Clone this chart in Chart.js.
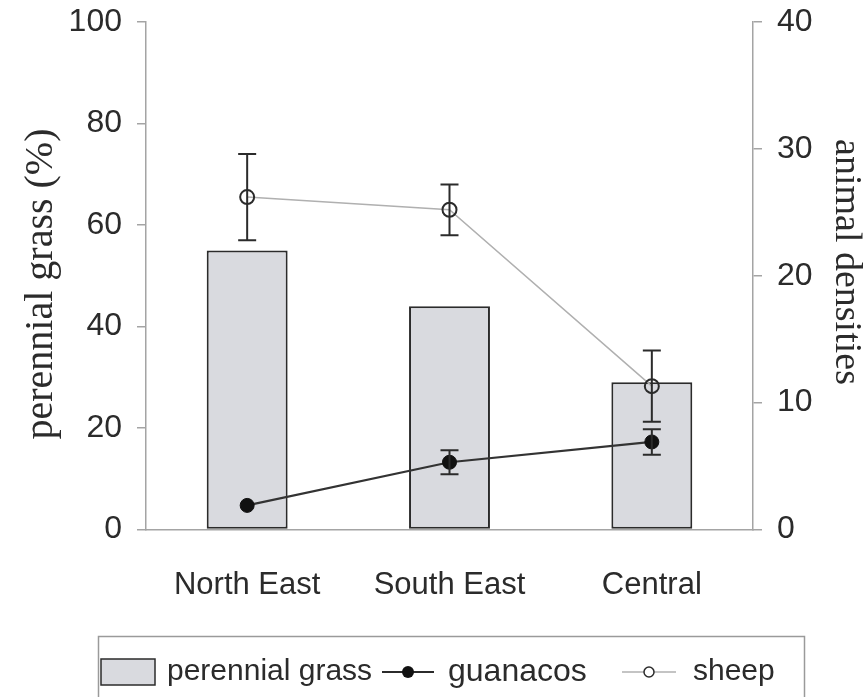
<!DOCTYPE html>
<html>
<head>
<meta charset="utf-8">
<title>Perennial grass cover and animal densities by region</title>
<script src="https://cdn.jsdelivr.net/npm/chart.js@4.4.1/dist/chart.umd.min.js"></script>
<style>
  html, body { margin: 0; padding: 0; background: #ffffff; }
  #wrap { width: 865px; height: 697px; position: relative; }
</style>
</head>
<body>
<div id="wrap"><canvas id="chart" width="865" height="697"></canvas></div>
<script>
// Regions surveyed
const regions = ['North East', 'South East', 'Central'];

// Perennial grass cover (%) per region — left axis
const perennialGrass = [55, 44, 29];

// Animal densities per region — right axis
const guanacos = [1.9, 5.3, 6.9];
const guanacosErr = [0, 0.95, 1.0];
const sheep = [26.2, 25.2, 11.3];
const sheepErr = [3.4, 2.0, 2.8];

// Axis ticks
const grassTicks = [0, 20, 40, 60, 80, 100];
const densityTicks = [0, 10, 20, 30, 40];

const INK = '#2b2b2b';
const AXIS = '#a4a4a4';
const BAR_FILL = '#d9dadf';
const SANS = '"Liberation Sans", Arial, sans-serif';
const SERIF = '"Liberation Serif", "Times New Roman", serif';

// Vertical error bars with caps, drawn on the density axis
const errorBars = {
  id: 'errorBars',
  afterDatasetsDraw(chart) {
    const ctx = chart.ctx;
    const yScale = chart.scales.y1;
    const sets = [
      { index: 1, values: guanacos, errs: guanacosErr },
      { index: 2, values: sheep, errs: sheepErr }
    ];
    ctx.save();
    ctx.strokeStyle = INK;
    ctx.lineWidth = 2;
    sets.forEach(s => {
      const meta = chart.getDatasetMeta(s.index);
      meta.data.forEach((pt, i) => {
        const e = s.errs[i];
        if (!e) return;
        const x = pt.x;
        const yTop = yScale.getPixelForValue(s.values[i] + e);
        const yBot = yScale.getPixelForValue(s.values[i] - e);
        ctx.beginPath();
        ctx.moveTo(x, yTop); ctx.lineTo(x, yBot);
        ctx.moveTo(x - 9, yTop); ctx.lineTo(x + 9, yTop);
        ctx.moveTo(x - 9, yBot); ctx.lineTo(x + 9, yBot);
        ctx.stroke();
      });
    });
    ctx.restore();
  }
};

// Rotated axis titles and the boxed legend below the plot
const decorations = {
  id: 'decorations',
  afterDraw(chart) {
    const ctx = chart.ctx;
    ctx.save();
    ctx.fillStyle = INK;
    ctx.textAlign = 'center';
    ctx.textBaseline = 'middle';

    ctx.save();
    ctx.font = '40px ' + SERIF;
    ctx.translate(41, 284);
    ctx.rotate(-Math.PI / 2);
    ctx.fillText('perennial grass (%)', 0, 0);
    ctx.restore();

    ctx.save();
    ctx.font = '38px ' + SERIF;
    ctx.translate(846, 262);
    ctx.rotate(Math.PI / 2);
    ctx.fillText('animal densities', 0, 0);
    ctx.restore();

    // legend frame
    ctx.strokeStyle = '#9a9a9a';
    ctx.lineWidth = 1.5;
    ctx.strokeRect(98.5, 636.5, 706, 90);

    const ly = 672;
    ctx.font = '30px ' + SANS;
    ctx.textAlign = 'left';
    ctx.textBaseline = 'middle';

    // perennial grass swatch
    ctx.fillStyle = BAR_FILL;
    ctx.fillRect(101, 659, 54, 26);
    ctx.strokeStyle = INK;
    ctx.lineWidth = 1.5;
    ctx.strokeRect(101, 659, 54, 26);
    ctx.fillStyle = INK;
    ctx.fillText('perennial grass', 167, ly);

    // guanacos marker
    ctx.strokeStyle = INK;
    ctx.lineWidth = 2;
    ctx.beginPath(); ctx.moveTo(382, ly); ctx.lineTo(434, ly); ctx.stroke();
    ctx.fillStyle = '#111';
    ctx.beginPath(); ctx.arc(408, ly, 6, 0, Math.PI * 2); ctx.fill();
    ctx.fillStyle = INK;
    ctx.font = '32px ' + SANS;
    ctx.fillText('guanacos', 448, ly);

    // sheep marker
    ctx.strokeStyle = '#b0b0b0';
    ctx.lineWidth = 1.5;
    ctx.beginPath(); ctx.moveTo(622, ly); ctx.lineTo(676, ly); ctx.stroke();
    ctx.strokeStyle = INK;
    ctx.fillStyle = '#ffffff';
    ctx.lineWidth = 1.5;
    ctx.beginPath(); ctx.arc(649, ly, 5, 0, Math.PI * 2); ctx.fill(); ctx.stroke();
    ctx.fillStyle = INK;
    ctx.font = '30px ' + SANS;
    ctx.fillText('sheep', 693, ly);

    ctx.restore();
  }
};

const yAxisCommon = {
  grid: { drawOnChartArea: false, drawTicks: true, tickLength: 9, color: AXIS, lineWidth: 1.5 },
  border: { display: true, color: AXIS, width: 1.5 },
  title: { display: false }
};

new Chart(document.getElementById('chart'), {
  type: 'bar',
  data: {
    labels: regions,
    datasets: [
      {
        type: 'bar',
        label: 'perennial grass',
        data: perennialGrass,
        yAxisID: 'y',
        backgroundColor: BAR_FILL,
        borderColor: INK,
        borderWidth: 2,
        borderSkipped: false,
        categoryPercentage: 1.0,
        barPercentage: 0.4,
        order: 3
      },
      {
        type: 'line',
        label: 'guanacos',
        data: guanacos,
        yAxisID: 'y1',
        borderColor: '#333333',
        borderWidth: 2.2,
        pointRadius: 7,
        pointBackgroundColor: '#111111',
        pointBorderColor: '#111111',
        pointBorderWidth: 1,
        tension: 0,
        order: 1
      },
      {
        type: 'line',
        label: 'sheep',
        data: sheep,
        yAxisID: 'y1',
        borderColor: '#b0b0b0',
        borderWidth: 1.5,
        pointRadius: 7,
        pointBackgroundColor: 'rgba(0,0,0,0)',
        pointBorderColor: INK,
        pointBorderWidth: 2,
        tension: 0,
        order: 2
      }
    ]
  },
  options: {
    responsive: false,
    animation: false,
    devicePixelRatio: 1,
    layout: { padding: { top: 22, left: 0, right: 0, bottom: 0 } },
    plugins: {
      legend: { display: false },
      tooltip: { enabled: false }
    },
    scales: {
      x: {
        offset: true,
        grid: { display: false },
        border: { display: true, color: AXIS, width: 1.5 },
        ticks: { color: INK, font: { family: SANS, size: 31 }, padding: 29, maxRotation: 0 },
        afterFit(s) { s.height = 167.5; s.paddingLeft = 0; s.paddingRight = 0; }
      },
      y: Object.assign({}, yAxisCommon, {
        position: 'left',
        min: grassTicks[0],
        max: grassTicks[grassTicks.length - 1],
        afterBuildTicks(s) { s.ticks = grassTicks.map(v => ({ value: v })); },
        ticks: { color: INK, font: { family: SANS, size: 32 }, padding: 15 },
        afterFit(s) { s.width = 146; s.paddingTop = 0; s.paddingBottom = 0; }
      }),
      y1: Object.assign({}, yAxisCommon, {
        position: 'right',
        min: densityTicks[0],
        max: densityTicks[densityTicks.length - 1],
        afterBuildTicks(s) { s.ticks = densityTicks.map(v => ({ value: v })); },
        ticks: { color: INK, font: { family: SANS, size: 32 }, padding: 15 },
        afterFit(s) { s.width = 112; s.paddingTop = 0; s.paddingBottom = 0; }
      })
    }
  },
  plugins: [errorBars, decorations]
});
</script>
</body>
</html>
